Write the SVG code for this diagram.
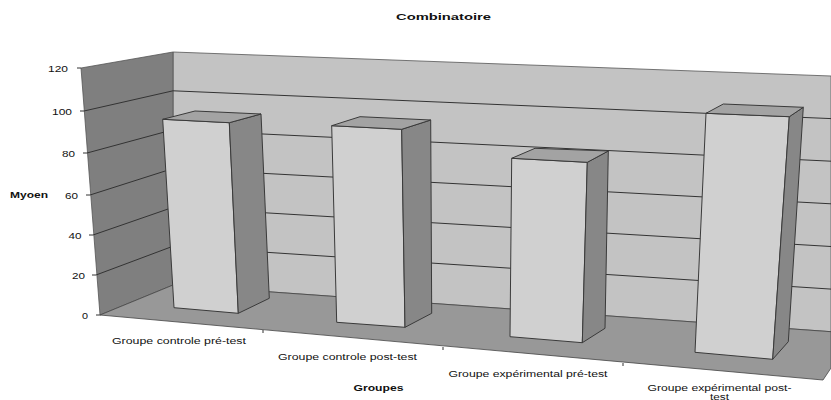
<svg xmlns="http://www.w3.org/2000/svg" width="831" height="400" viewBox="0 0 831 400">
<style>
.t{font-family:"Liberation Sans",Arial,sans-serif;font-size:8.5px;fill:#111}
.b{font-weight:bold}
.edge{stroke:#3a3a3a;stroke-width:1;stroke-linejoin:round}
.grid{stroke:#333;stroke-width:1;fill:none}
.front{fill:#d0d0d0}
.side{fill:#878787}
.top{fill:#a3a3a3}
</style>
<rect width="831" height="400" fill="#ffffff"/>
<g id="chart-walls">
<polygon points="173,52 831,76 831,331.7 173,285" fill="#c3c3c3" stroke="#555" stroke-width="0.8"/>
<polygon points="81,68 173,52 173,285 100,315" fill="#7f7f7f" stroke="#555" stroke-width="0.8"/>
<polygon points="100,315 173,285 831,331.7 831,368 823,380" fill="#989898" stroke="#444" stroke-width="0.8"/>
</g>
<g id="gridlines">
<path class="grid" d="M84,111 L173,90.8 L831,118.6 M87,153 L173,129.7 L831,161.2 M90,195 L173,168.5 L831,203.8 M93,235 L173,207.3 L831,246.5 M96,275 L173,246.2 L831,289.1"/>
<path class="grid" d="M77,68 L81,68 M80,111 L84,111 M83,153 L87,153 M86,195 L90,195 M89,235 L93,235 M92,275 L96,275 M96,315 L100,315"/>
<path class="grid" d="M263,330 L263,333 M443,347 L443,350 M623,363 L623,366"/>
</g>
<g id="bar1">
<polygon class="front edge" points="162.7,119.3 229.3,122.7 238.3,313.3 174,307.7"/>
<polygon class="side edge" points="229.3,122.7 261,114 269.3,298.3 238.3,313.3"/>
<polygon class="top edge" points="162.7,119.3 195,111 261,114 229.3,122.7"/>
</g>
<g id="bar2">
<polygon class="front edge" points="331.7,125.7 401.7,129.3 405,327.3 336.7,322.3"/>
<polygon class="side edge" points="401.7,129.3 430.7,120 431.7,313.3 405,327.3"/>
<polygon class="top edge" points="331.7,125.7 360,116.7 430.7,120 401.7,129.3"/>
</g>
<g id="bar3">
<polygon class="front edge" points="511.7,158.3 587.3,162.3 582.3,342.7 510,336.7"/>
<polygon class="side edge" points="587.3,162.3 608.3,151 605,328.3 582.3,342.7"/>
<polygon class="top edge" points="511.7,158.3 535,148.3 608.3,151 587.3,162.3"/>
</g>
<g id="bar4">
<polygon class="front edge" points="706,113.3 789.3,116.7 772.7,359.3 695,352.3"/>
<polygon class="side edge" points="789.3,116.7 803.3,107.3 788.3,341.7 772.7,359.3"/>
<polygon class="top edge" points="706,113.3 723.3,104 803.3,107.3 789.3,116.7"/>
</g>
<g id="labels">
<text class="t b" x="396" y="19.5" font-size="9.5" textLength="95" lengthAdjust="spacingAndGlyphs">Combinatoire</text>
<text class="t b" x="10" y="198" textLength="38" lengthAdjust="spacingAndGlyphs">Myoen</text>
<g class="t">
<text x="48" y="71.5" textLength="20" lengthAdjust="spacingAndGlyphs">120</text>
<text x="52" y="114.5" textLength="20" lengthAdjust="spacingAndGlyphs">100</text>
<text x="62" y="156.5" textLength="13" lengthAdjust="spacingAndGlyphs">80</text>
<text x="65" y="198.5" textLength="13" lengthAdjust="spacingAndGlyphs">60</text>
<text x="68.5" y="238.5" textLength="13" lengthAdjust="spacingAndGlyphs">40</text>
<text x="72" y="278.5" textLength="13" lengthAdjust="spacingAndGlyphs">20</text>
<text x="82" y="318.5" textLength="6" lengthAdjust="spacingAndGlyphs">0</text>
</g>
<text class="t" x="112" y="344" textLength="134" lengthAdjust="spacingAndGlyphs">Groupe controle pré-test</text>
<text class="t" x="278" y="359.5" textLength="139" lengthAdjust="spacingAndGlyphs">Groupe controle post-test</text>
<text class="t b" x="353.5" y="390.5" textLength="50" lengthAdjust="spacingAndGlyphs">Groupes</text>
<text class="t" x="448.5" y="377" textLength="159" lengthAdjust="spacingAndGlyphs">Groupe expérimental pré-test</text>
<text class="t" x="647.5" y="390.5" textLength="144" lengthAdjust="spacingAndGlyphs">Groupe expérimental post-</text>
<text class="t" x="710" y="399.5" font-size="6.5" textLength="19" lengthAdjust="spacingAndGlyphs">test</text>
</g>
</svg>
